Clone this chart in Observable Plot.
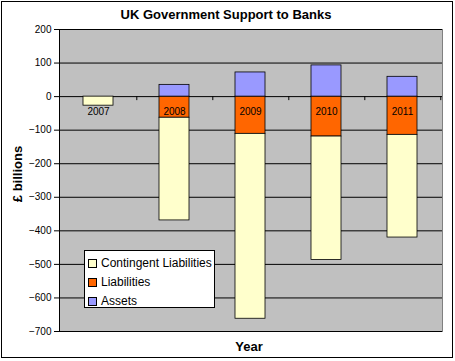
<!DOCTYPE html>
<html>
<head>
<meta charset="utf-8">
<script src="https://cdn.jsdelivr.net/npm/d3@7"></script>
<script src="https://cdn.jsdelivr.net/npm/@observablehq/plot@0.6"></script>
<style>
  html, body { margin: 0; padding: 0; background: #fff; }
  body { font-family: "Liberation Sans", Arial, sans-serif; color: #000; }
  #wrap { position: relative; width: 455px; height: 361px; overflow: hidden; }
  #border { position: absolute; left: 1px; top: 1px; width: 452px; height: 357px; box-sizing: border-box; border: 1px solid #000; pointer-events: none; }
  #chart { position: absolute; left: 0; top: 0; }
  .lbl { position: absolute; white-space: nowrap; font-weight: bold; font-size: 13px; transform: translate(-50%, -50%); }
  #legend { position: absolute; left: 84px; top: 250px; width: 131px; height: 58px; box-sizing: border-box; border: 1px solid #000; background: #fff; font-size: 12px; }
  .row { position: absolute; left: 3px; height: 14px; line-height: 14px; display: flex; align-items: center; white-space: nowrap; }
  .sw { width: 7px; height: 7px; border: 1px solid #000; margin-right: 4px; flex: none; }
  .row span { white-space: nowrap; }
</style>
</head>
<body>
<div id="wrap">
  <div id="chart"></div>
  <div class="lbl" style="left:226px;top:14px;">UK Government Support to Banks</div>
  <div class="lbl" style="left:17px;top:174px;transform:translate(-50%,-50%) rotate(-90deg);">£ billions</div>
  <div class="lbl" style="left:249px;top:346px;">Year</div>
  <div id="legend"></div>
  <div id="border"></div>
</div>
<script>
const years = ["2007", "2008", "2009", "2010", "2011"];
const contingentLiabilities = [-27, -306, -551, -368, -306];
const liabilities = [0, -63, -111, -119, -114];
const assets = [0, 35, 72, 93, 59];
const seriesNames = ["Contingent Liabilities", "Liabilities", "Assets"];
const seriesColors = ["#FFFFCC", "#FF6600", "#9999FF"];
const yTicks = [200, 100, 0, -100, -200, -300, -400, -500, -600, -700];

// stacking order: liabilities nearest zero, then contingent liabilities; assets above zero
const rows = [];
const stackOrder = [["Liabilities", liabilities], ["Contingent Liabilities", contingentLiabilities], ["Assets", assets]];
for (const [name, vals] of stackOrder) {
  years.forEach((yr, i) => { if (vals[i] !== 0) rows.push({year: yr, series: name, value: vals[i]}); });
}

const chart = Plot.plot({
  width: 455,
  height: 361,
  marginLeft: 59,
  marginRight: 13,
  marginTop: 29,
  marginBottom: 30,
  style: {fontFamily: '"Liberation Sans", Arial, sans-serif', fontSize: "10px", background: "transparent", color: "#000"},
  x: {domain: years, paddingInner: 0.6, paddingOuter: 0.3, axis: null},
  y: {domain: [-700, 200], axis: null},
  color: {domain: seriesNames, range: seriesColors},
  marks: [
    Plot.frame({fill: "#C0C0C0", stroke: "#808080"}),
    Plot.gridY(yTicks, {stroke: "#000", strokeOpacity: 1, strokeWidth: 1}),
    Plot.frame({anchor: "left", stroke: "#000"}),
    Plot.axisY(yTicks, {tickSize: 5, tickPadding: 3, label: null, fontSize: 10, stroke: "#000"}),
    Plot.barY(rows, {x: "year", y: "value", fill: "series", stroke: "#000", strokeWidth: 0.8}),
    Plot.ruleX(years, {x: d => d, y1: 0, y2: -12, dx: 38.3, stroke: "#000"}),
    Plot.text(years, {x: d => d, y: () => 0, dy: 15, text: d => d, fontSize: 10, fill: "#000"})
  ]
});
document.getElementById("chart").appendChild(chart);

const legend = document.getElementById("legend");
seriesNames.forEach((name, i) => {
  const row = document.createElement("div");
  row.className = "row";
  row.style.top = (5 + i * 19) + "px";
  const sw = document.createElement("div");
  sw.className = "sw";
  sw.style.background = seriesColors[i];
  const t = document.createElement("span");
  t.textContent = name;
  row.appendChild(sw);
  row.appendChild(t);
  legend.appendChild(row);
});
</script>
</body>
</html>
